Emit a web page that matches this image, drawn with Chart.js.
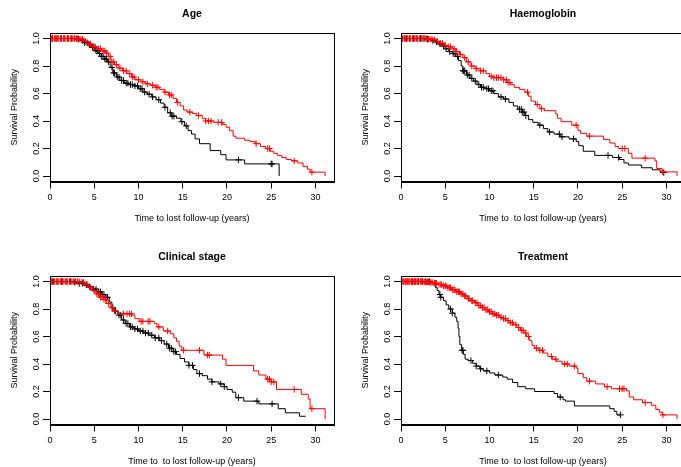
<!DOCTYPE html>
<html><head><meta charset="utf-8">
<script src="https://cdn.jsdelivr.net/npm/chart.js@4.4.0/dist/chart.umd.min.js"></script>
<style>
html,body{margin:0;padding:0;background:#fff;overflow:hidden;width:681px;height:467px;position:relative;}
.p{position:absolute;width:340px;height:233px;}
canvas{display:block;}
</style></head><body>
<div class="p" style="left:0;top:0"><canvas id="c1" width="340" height="233"></canvas></div>
<div class="p" style="left:351px;top:0"><canvas id="c2" width="340" height="233"></canvas></div>
<div class="p" style="left:0;top:243px"><canvas id="c3" width="340" height="233"></canvas></div>
<div class="p" style="left:351px;top:243px"><canvas id="c4" width="340" height="233"></canvas></div>
<script>
// ---- tick labels / categories ----
const xTickValues = [0,5,10,15,20,25,30];
const yTickValues = [0,0.2,0.4,0.6,0.8,1.0];
const panelTitles = ['Age','Haemoglobin','Clinical stage','Treatment'];
const xAxisTitles = ['Time to lost follow-up (years)','Time to  to lost follow-up (years)','Time to  to lost follow-up (years)','Time to  to lost follow-up (years)'];
const yAxisTitle = 'Survival Probability';

// ---- Age ----
const ageBlackTime = [0,3.0,3.5,3.9,4.3,4.7,5.1,5.5,5.8,6.2,6.5,6.8,7.1,7.5,7.9,8.4,8.9,9.5,10.0,10.5,11.0,11.5,12.0,12.5,12.9,13.3,13.7,14.3,14.8,15.2,15.6,16.0,16.4,16.9,18.1,19.3,19.9,22.0,25.9];
const ageBlackSurv = [1,0.995,0.985,0.97,0.955,0.935,0.91,0.89,0.87,0.85,0.83,0.79,0.75,0.72,0.695,0.675,0.665,0.655,0.635,0.61,0.595,0.575,0.555,0.53,0.5,0.46,0.435,0.42,0.395,0.365,0.33,0.305,0.27,0.235,0.185,0.155,0.117,0.088,0];
const ageBlackCens = [0.3,0.7,1.2,1.6,2.0,2.4,2.8,3.2,3.7,3.9,4.2,4.5,4.8,5.0,5.2,5.4,5.6,5.8,6.0,6.2,6.4,6.6,7.0,7.2,7.3,7.6,7.8,8.1,8.3,8.6,8.8,9.1,9.3,9.6,9.9,10.2,10.4,10.7,11.2,11.6,12.3,13.0,13.6,13.8,14.0,14.9,15.4,21.3,25.0,25.1];
const ageRedTime = [0,3.3,3.8,4.3,4.8,5.3,5.8,6.3,6.6,6.9,7.3,7.7,8.2,8.7,9.2,9.6,10.2,10.8,11.4,11.9,12.4,12.9,13.4,13.9,14.3,14.7,15.1,15.5,16.1,16.6,17.2,17.6,18.5,19.5,19.9,20.3,20.7,21.0,22.0,22.6,23.2,23.8,24.4,24.9,25.3,25.7,26.2,26.7,27.3,28.0,28.6,29.1,29.4,31.1];
const ageRedSurv = [1,0.995,0.98,0.96,0.94,0.925,0.91,0.895,0.87,0.83,0.81,0.785,0.765,0.745,0.72,0.7,0.685,0.67,0.66,0.645,0.63,0.61,0.59,0.565,0.535,0.51,0.48,0.465,0.455,0.44,0.42,0.4,0.39,0.375,0.355,0.33,0.29,0.275,0.26,0.25,0.235,0.215,0.2,0.18,0.165,0.15,0.135,0.12,0.11,0.095,0.07,0.05,0.028,0];
const ageRedCens = [0.1,0.2,0.3,0.5,0.6,0.8,0.9,1.0,1.2,1.3,1.5,1.6,1.8,2.0,2.1,2.3,2.5,2.6,2.8,3.0,3.1,3.3,3.5,3.7,4.0,4.4,4.6,4.9,5.1,5.5,5.7,6.0,6.2,6.4,6.8,7.0,7.2,7.5,7.9,8.3,8.6,9.0,9.3,9.5,10.0,10.5,11.0,11.6,12.0,12.2,13.0,13.5,13.7,14.4,15.8,16.8,17.6,17.9,18.2,19.0,19.4,23.3,24.6,24.8,27.6,29.6];

// ---- Haemoglobin ----
const hbBlackTime = [0,2.9,3.4,3.8,4.2,4.6,5.0,5.4,5.8,6.2,6.5,6.8,7.0,7.4,7.8,8.2,8.6,9.0,9.5,10.0,10.5,11.0,11.6,12.2,12.7,13.2,13.7,14.0,14.4,14.9,15.5,16.1,16.6,17.3,18.0,19.0,19.8,20.1,20.6,21.9,23.9,24.7,25.2,25.7,27.2,28.4,29.3,29.7];
const hbBlackSurv = [1,0.995,0.985,0.975,0.96,0.945,0.925,0.905,0.89,0.87,0.84,0.8,0.765,0.735,0.71,0.69,0.665,0.645,0.635,0.62,0.6,0.575,0.56,0.535,0.51,0.485,0.465,0.44,0.41,0.39,0.37,0.345,0.32,0.305,0.285,0.27,0.25,0.22,0.18,0.15,0.135,0.12,0.095,0.08,0.06,0.045,0.025,0.025];
const hbBlackCens = [0.2,0.6,1.0,1.4,1.8,2.2,2.6,3.0,3.6,4.0,4.4,4.8,5.1,5.5,5.9,6.1,6.4,7.0,7.1,7.2,7.5,7.7,8.0,8.4,8.8,9.1,9.3,9.7,9.9,10.2,10.4,11.3,11.8,13.4,13.6,13.7,13.9,14.1,15.7,16.8,17.9,18.2,19.5,23.4,24.6,29.7];
const hbRedTime = [0,3.1,3.6,4.0,4.4,4.9,5.3,5.8,6.2,6.6,7.0,7.4,7.9,8.4,9.0,9.6,10.0,10.5,11.6,12.0,12.4,12.8,13.4,14.0,14.4,14.7,15.2,15.7,16.2,17.5,17.7,18.1,19.3,20.0,20.3,21.0,22.9,23.6,24.2,24.6,25.7,26.1,28.7,28.9,29.5,31.2];
const hbRedSurv = [1,0.995,0.99,0.98,0.965,0.95,0.94,0.925,0.905,0.885,0.86,0.83,0.8,0.78,0.765,0.745,0.725,0.715,0.7,0.68,0.665,0.645,0.63,0.61,0.58,0.545,0.52,0.49,0.475,0.45,0.42,0.395,0.37,0.33,0.31,0.29,0.265,0.24,0.215,0.2,0.165,0.13,0.11,0.055,0.03,0];
const hbRedCens = [0.1,0.2,0.4,0.5,0.7,0.8,1.0,1.1,1.3,1.5,1.6,1.8,1.9,2.1,2.3,2.4,2.6,2.8,2.9,3.1,3.3,3.5,3.8,4.1,4.5,4.7,5.0,5.4,5.6,6.0,6.3,6.7,7.2,7.6,8.0,8.5,9.0,9.3,10.2,10.5,10.8,11.0,11.3,11.6,11.9,12.1,12.3,14.3,15.4,15.9,19.8,21.3,25.0,25.3,27.6,29.6];

// ---- Clinical stage ----
const csBlackTime = [0,2.6,3.2,3.8,4.3,4.8,5.3,5.8,6.3,6.7,7.0,7.3,7.7,8.1,8.5,9.0,9.5,10.0,10.6,11.2,11.8,12.4,12.9,13.4,13.9,14.3,14.7,15.2,15.7,16.2,16.6,17.2,17.8,18.3,19.1,19.7,20.0,20.6,21.0,21.9,23.6,25.8,26.6,28.2,28.9];
const csBlackSurv = [1,0.995,0.985,0.975,0.96,0.945,0.925,0.905,0.885,0.85,0.81,0.785,0.755,0.72,0.695,0.67,0.655,0.64,0.625,0.61,0.59,0.57,0.545,0.515,0.49,0.47,0.44,0.415,0.39,0.36,0.33,0.315,0.29,0.27,0.255,0.235,0.215,0.195,0.155,0.13,0.11,0.075,0.045,0.02,0.02];
const csBlackCens = [0.3,0.8,1.3,1.8,2.3,2.8,3.3,3.7,4.1,4.5,4.9,5.2,5.5,5.7,5.9,6.1,6.3,6.5,7.1,7.4,7.8,8.0,8.3,8.6,8.8,9.1,9.3,9.6,9.9,10.2,10.5,10.8,11.1,11.5,11.9,12.3,12.6,13.2,13.5,13.7,14.0,14.2,15.7,16.1,16.9,18.3,19.3,19.7,21.3,23.4,25.1];
const csRedTime = [0,3.4,3.9,4.4,4.8,5.2,5.6,6.0,6.4,6.8,7.2,7.6,9.3,9.6,10.1,11.8,12.1,12.8,13.6,14.0,14.3,14.6,14.9,17.4,19.5,19.9,23.0,23.6,24.4,25.0,25.6,28.4,29.2,29.4,31.1];
const csRedSurv = [1,0.995,0.98,0.955,0.935,0.91,0.885,0.87,0.84,0.81,0.785,0.765,0.755,0.73,0.71,0.695,0.67,0.64,0.62,0.59,0.565,0.53,0.5,0.465,0.435,0.39,0.35,0.32,0.29,0.27,0.215,0.18,0.145,0.075,0];
const csRedCens = [0.1,0.2,0.4,0.5,0.7,0.9,1.0,1.2,1.4,1.5,1.7,1.9,2.0,2.2,2.4,2.6,2.7,2.9,3.1,3.3,3.6,3.8,4.2,4.6,5.0,5.3,5.5,5.7,5.9,6.1,6.3,6.6,7.0,7.3,8.3,8.7,9.0,9.2,10.3,10.5,11.1,11.3,12.3,13.3,15.1,16.9,17.8,18.0,24.6,24.8,25.0,25.3,27.6,29.6];

// ---- Treatment ----
const trBlackTime = [0,3.4,3.7,3.9,4.1,4.3,4.5,4.8,5.1,5.4,5.8,6.1,6.3,6.45,6.55,6.65,6.85,7.05,7.25,7.6,8.1,8.5,8.9,9.3,10.0,10.6,11.5,12.0,12.6,13.2,14.1,15.1,17.3,17.7,18.3,18.6,19.6,23.6,24.1,24.4,24.8];
const trBlackSurv = [1,0.99,0.975,0.955,0.935,0.905,0.885,0.86,0.83,0.8,0.77,0.74,0.71,0.66,0.6,0.54,0.5,0.47,0.435,0.425,0.405,0.385,0.365,0.35,0.335,0.32,0.305,0.29,0.265,0.235,0.22,0.2,0.185,0.16,0.14,0.13,0.095,0.075,0.055,0.03,0.03];
const trBlackCens = [1.2,1.6,2.0,2.4,2.8,3.2,4.4,4.5,5.6,5.8,6.9,7.0,7.9,8.5,9.0,9.7,11.0,18.0,24.8];
const trRedTime = [0,2.5,3.2,3.7,4.2,4.7,5.2,5.7,6.2,6.7,7.1,7.5,7.9,8.3,8.7,9.1,9.5,9.9,10.3,10.7,11.1,11.5,11.9,12.3,12.7,13.1,13.5,13.9,14.2,14.5,14.8,15.1,15.6,16.1,16.6,17.1,17.6,18.2,19.0,19.8,20.0,20.6,21.0,22.0,23.0,23.8,25.5,25.8,26.3,27.3,28.3,28.8,29.2,29.5,31.2];
const trRedSurv = [1,0.997,0.993,0.987,0.978,0.968,0.955,0.94,0.925,0.91,0.895,0.875,0.86,0.845,0.825,0.81,0.795,0.78,0.765,0.755,0.74,0.73,0.715,0.7,0.685,0.665,0.645,0.625,0.6,0.57,0.535,0.515,0.5,0.48,0.455,0.435,0.42,0.4,0.385,0.37,0.33,0.3,0.275,0.255,0.235,0.22,0.205,0.16,0.14,0.12,0.1,0.07,0.05,0.03,0];
const trRedCens = [0.1,0.2,0.3,0.45,0.5,0.6,0.75,0.8,0.9,1.0,1.15,1.2,1.3,1.45,1.5,1.6,1.7,1.85,1.9,2.0,2.2,2.3,2.45,2.6,2.7,2.9,3.0,3.1,3.3,3.4,3.6,3.8,3.9,4.0,4.3,4.5,4.6,4.8,5.0,5.1,5.3,5.5,5.6,5.8,6.0,6.1,6.3,6.5,6.6,6.8,7.0,7.2,7.3,7.6,7.7,8.0,8.1,8.4,8.6,8.8,9.0,9.2,9.4,9.6,9.8,10.0,10.2,10.4,10.6,10.8,11.0,11.3,11.6,11.8,12.1,12.4,12.6,13.0,13.3,13.6,13.8,14.1,14.4,15.3,15.7,16.0,17.0,17.5,18.5,18.8,19.6,21.3,23.3,24.7,25.0,25.2,27.6,29.6];

// ---- helpers ----
const FONT = "'Liberation Sans', Arial, Helvetica, sans-serif";
Chart.defaults.font.family = FONT;
Chart.defaults.color = '#000';
function survAt(times, survs, t) {
  let s = survs[0];
  for (let i = 0; i < times.length; i++) { if (times[i] <= t) s = survs[i]; else break; }
  return s;
}
function curve(times, survs) { return times.map((t, i) => ({x: t, y: survs[i]})); }
function marks(times, survs, cens) { return cens.map(t => ({x: t, y: survAt(times, survs, t)})); }

const boxPlugin = {
  id: 'box',
  afterDraw(chart) {
    const {ctx, chartArea: a} = chart;
    ctx.save();
    ctx.strokeStyle = '#000';
    ctx.lineWidth = 1;
    const l = Math.round(a.left) + 0.5, t = Math.round(a.top) + 0.5;
    const r = Math.round(a.right) + 0.5, b = Math.round(a.bottom) + 0.5;
    ctx.strokeRect(l, t, r - l, b - t);
    ctx.restore();
  }
};

function makeChart(id, idx, bT, bS, bC, rT, rS, rC) {
  const RED = '#ff0000', BLACK = '#000000';
  const markDs = (data, col) => ({data, showLine: false, pointStyle: 'cross', pointRadius: 3.2,
    pointBorderColor: col, pointBackgroundColor: col, pointBorderWidth: 1, borderColor: col});
  const lineDs = (data, col) => ({data, stepped: true, borderColor: col, borderWidth: 1, pointRadius: 0, fill: false});
  new Chart(document.getElementById(id), {
    type: 'line',
    data: {datasets: [
      markDs(marks(rT, rS, rC), RED),
      lineDs(curve(rT, rS), RED),
      markDs(marks(bT, bS, bC), BLACK),
      lineDs(curve(bT, bS), BLACK)
    ]},
    options: {
      responsive: false, animation: false, devicePixelRatio: 1,
      layout: {padding: {left: 0, right: 6, top: 0, bottom: 0}},
      plugins: {
        legend: {display: false}, tooltip: {enabled: false},
        title: {display: true, text: panelTitles[idx], fullSize: false, color: '#000',
          font: {size: 10.5, weight: 'bold', family: FONT}, padding: {top: 7.8, bottom: 12.6}}
      },
      scales: {
        x: {type: 'linear', min: 0, max: 32.1,
          afterBuildTicks: s => { s.ticks = xTickValues.map(v => ({value: v})); },
          afterFit: s => { s.height = 51.5; },
          ticks: {color: '#000', font: {size: 9, family: FONT}, padding: 3.5, maxRotation: 0, autoSkip: false,
            callback: v => String(v)},
          grid: {drawOnChartArea: false, drawTicks: true, tickLength: 7, color: '#000', lineWidth: 1},
          border: {display: true, color: '#000', width: 1},
          title: {display: true, text: xAxisTitles[idx], color: '#000', font: {size: 9, family: FONT}, padding: {top: 0, bottom: 8.6}}
        },
        y: {type: 'linear', min: -0.04, max: 1.04,
          afterBuildTicks: s => { s.ticks = yTickValues.map(v => ({value: v})); },
          afterFit: s => { s.width = 50; },
          ticks: {color: '#000', font: {size: 9, family: FONT}, padding: 0.5, minRotation: 90, maxRotation: 90,
            crossAlign: 'center', autoSkip: false, callback: v => Number(v).toFixed(1)},
          grid: {drawOnChartArea: false, drawTicks: true, tickLength: 7, color: '#000', lineWidth: 1},
          border: {display: true, color: '#000', width: 1},
          title: {display: true, text: yAxisTitle, color: '#000', font: {size: 9, family: FONT}, padding: {top: 8.8, bottom: 0}}
        }
      }
    },
    plugins: [boxPlugin]
  });
}

makeChart('c1', 0, ageBlackTime, ageBlackSurv, ageBlackCens, ageRedTime, ageRedSurv, ageRedCens);
makeChart('c2', 1, hbBlackTime, hbBlackSurv, hbBlackCens, hbRedTime, hbRedSurv, hbRedCens);
makeChart('c3', 2, csBlackTime, csBlackSurv, csBlackCens, csRedTime, csRedSurv, csRedCens);
makeChart('c4', 3, trBlackTime, trBlackSurv, trBlackCens, trRedTime, trRedSurv, trRedCens);
</script>
</body></html>
